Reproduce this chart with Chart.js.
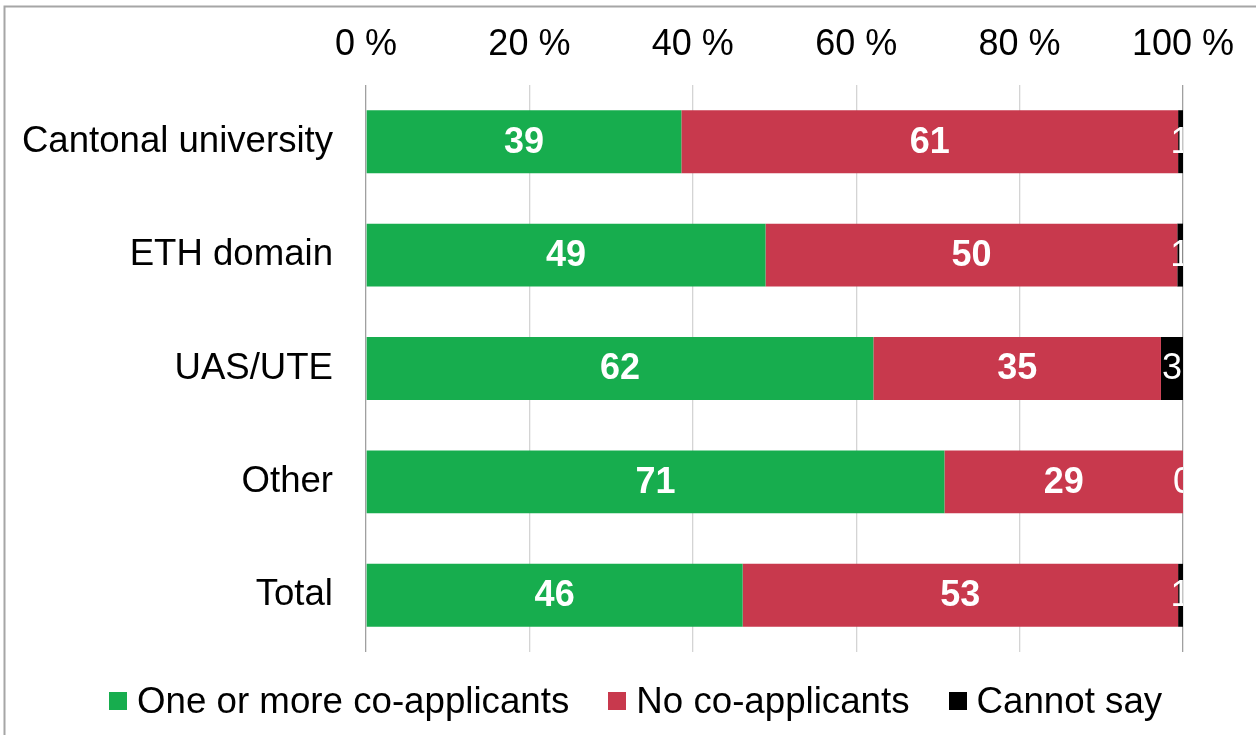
<!DOCTYPE html>
<html>
<head>
<meta charset="utf-8">
<script src="https://cdn.jsdelivr.net/npm/chart.js@4/dist/chart.umd.min.js"></script>
<style>
    html, body { margin: 0; padding: 0; background: #fff; }
    #wrap { position: relative; width: 1256px; height: 735px; overflow: hidden; }
    #legend {
        position: absolute; left: 109px; top: 682px; height: 38px;
        display: flex; align-items: center;
        font-family: 'Liberation Sans', Arial, sans-serif; font-size: 36.7px; color: #000;
    }
    #legend .item { display: flex; align-items: center; margin-right: 39px; white-space: nowrap; }
    #legend .box { width: 18px; height: 18px; margin-right: 10px; }
</style>
</head>
<body>
<div id="wrap">
    <canvas id="chart"></canvas>
    <div id="legend"></div>
</div>
<script>
    // categories (top to bottom)
    const CATEGORIES = ['Cantonal university', 'ETH domain', 'UAS/UTE', 'Other', 'Total'];

    // shares in percent
    const WITH_CO = [38.6, 48.9, 62.1, 70.8, 46.1];
    const NO_CO = [60.8, 50.4, 35.2, 29.2, 53.3];
    const CANNOT_SAY = [0.6, 0.7, 2.7, 0, 0.6];

    const SERIES_NAMES = ['One or more co-applicants', 'No co-applicants', 'Cannot say'];
    const SERIES_COLORS = ['#17ad4e', '#c8394d', '#000000'];

    const X_TICKS = [0, 20, 40, 60, 80, 100];

    const FONT = "'Liberation Sans', Arial, sans-serif";

    // white value labels in the middle of each segment, clipped to the plot
    const segmentLabels = {
        id: 'segmentLabels',
        afterDatasetsDraw: function (chart) {
            const ctx = chart.ctx;
            const area = chart.chartArea;
            ctx.save();
            ctx.beginPath();
            ctx.rect(area.left, area.top, area.right - area.left, area.bottom - area.top);
            ctx.clip();
            ctx.fillStyle = '#fff';
            ctx.textAlign = 'center';
            ctx.textBaseline = 'middle';
            chart.data.datasets.forEach(function (ds, di) {
                const meta = chart.getDatasetMeta(di);
                ctx.font = (di < 2 ? 'bold ' : '') + '36px ' + FONT;
                meta.data.forEach(function (bar, i) {
                    const cx = (bar.x + bar.base) / 2;
                    ctx.fillText(String(Math.round(ds.data[i])), cx, bar.y + 1);
                });
            });
            ctx.restore();
        },
    };

    // thin grey frame around the figure (top and left edges visible)
    const frame = {
        id: 'frame',
        beforeDraw: function (chart) {
            const ctx = chart.ctx;
            ctx.save();
            ctx.strokeStyle = '#a6a6a6';
            ctx.lineWidth = 2;
            ctx.strokeRect(4.5, 6.5, 1300, 800);
            ctx.restore();
        },
    };

    const datasets = [WITH_CO, NO_CO, CANNOT_SAY].map(function (values, i) {
        return {
            label: SERIES_NAMES[i],
            data: values,
            backgroundColor: SERIES_COLORS[i],
            borderWidth: 0,
            categoryPercentage: 1,
            barPercentage: 0.555,
        };
    });

    new Chart(document.getElementById('chart').getContext('2d'), {
        type: 'bar',
        data: { labels: CATEGORIES, datasets: datasets },
        plugins: [frame, segmentLabels],
        options: {
            indexAxis: 'y',
            responsive: true,
            maintainAspectRatio: false,
            animation: false,
            layout: { padding: { left: 0, right: 73, top: 0, bottom: 83 } },
            plugins: {
                legend: { display: false },
                tooltip: { enabled: false },
            },
            scales: {
                x: {
                    position: 'top',
                    stacked: true,
                    min: 0,
                    max: 100,
                    afterFit: function (scale) { scale.height = 85; },
                    afterBuildTicks: function (scale) {
                        scale.ticks = X_TICKS.map(function (v) { return { value: v }; });
                    },
                    border: { display: false },
                    grid: {
                        drawTicks: false,
                        lineWidth: 1.3,
                        color: function (c) {
                            const v = c.tick && c.tick.value;
                            return (v === 0 || v === 100) ? '#a0a0a0' : '#d4d4d4';
                        },
                    },
                    ticks: {
                        padding: 18,
                        color: '#000',
                        font: { family: FONT, size: 36 },
                        maxRotation: 0,
                        callback: function (v) { return v + ' %'; },
                    },
                },
                y: {
                    stacked: true,
                    afterFit: function (scale) { scale.width = 366; },
                    border: { display: false },
                    grid: { display: false, drawTicks: false },
                    ticks: {
                        padding: 33,
                        color: '#000',
                        font: { family: FONT, size: 36.6 },
                    },
                },
            },
        },
    });

    // legend as real text below the plot
    const legendEl = document.getElementById('legend');
    SERIES_NAMES.forEach(function (name, i) {
        const item = document.createElement('div');
        item.className = 'item';
        const box = document.createElement('span');
        box.className = 'box';
        box.style.background = SERIES_COLORS[i];
        const text = document.createElement('span');
        text.textContent = name;
        item.appendChild(box);
        item.appendChild(text);
        legendEl.appendChild(item);
    });
</script>
</body>
</html>
